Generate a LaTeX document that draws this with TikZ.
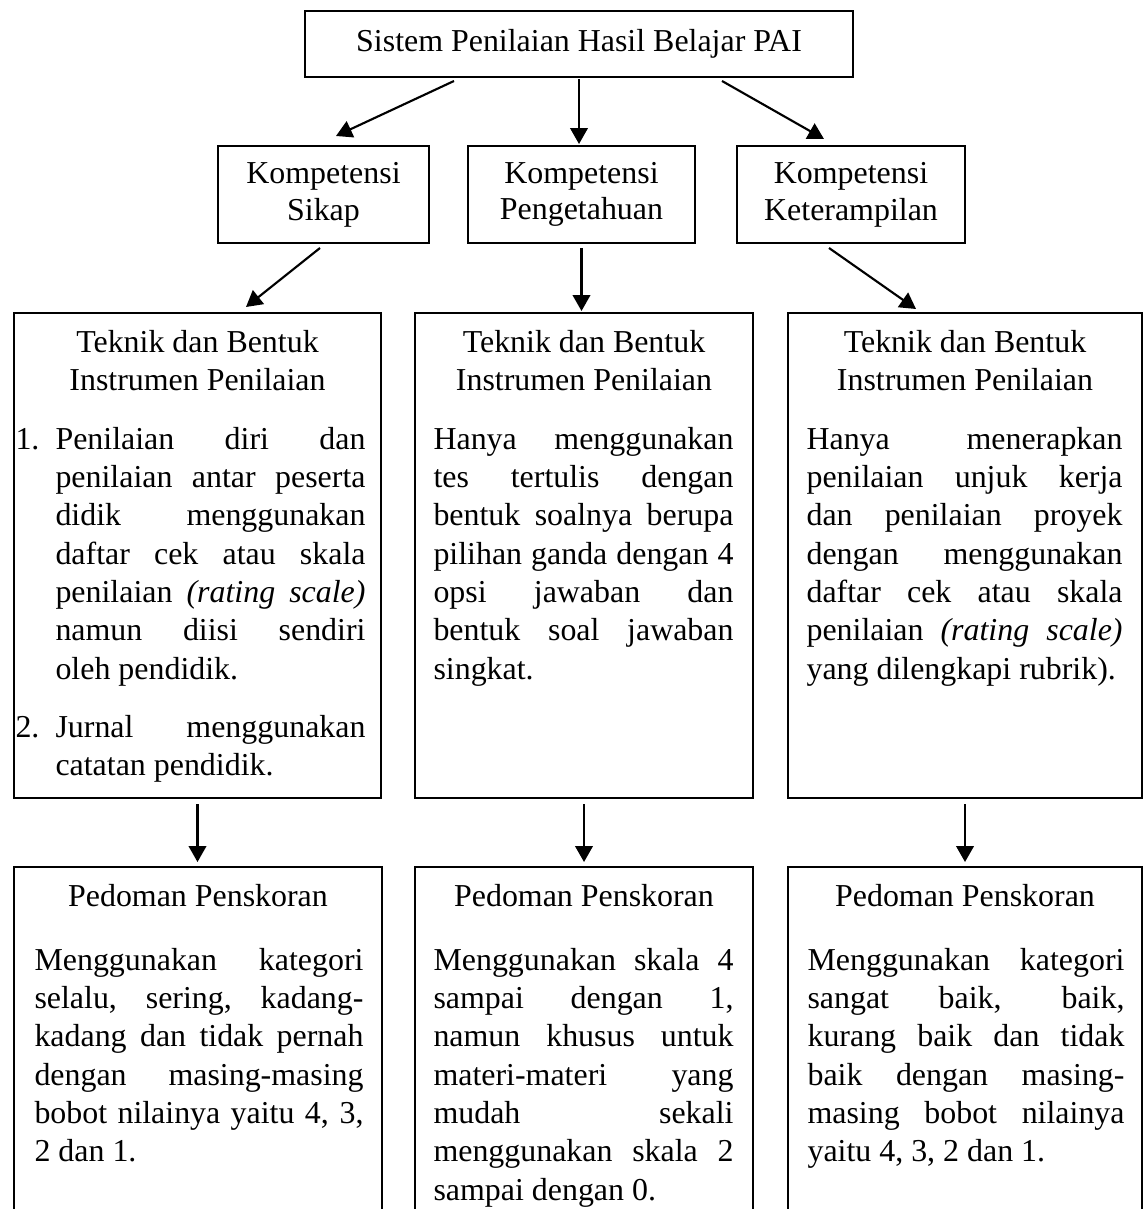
\documentclass[tikz,border=0pt]{standalone}
\usepackage{fontspec}
\setmainfont{Liberation Serif}
\usetikzlibrary{positioning,arrows.meta,calc}

\newlength{\pxu}
\setlength{\pxu}{0.376pt}
\newcommand{\numitem}[2]{\hangindent=40\pxu\hangafter=1\noindent
  \makebox[40\pxu][l]{\strut#1}#2\par}

\begin{document}
\begin{tikzpicture}[
  x=0.376pt, y=-0.376pt,
  box/.style={draw, line width=0.75pt, inner sep=0pt, align=center,
              font=\fontsize{12}{14.4}\selectfont},
  komp/.style={box, minimum height=97\pxu,
               font=\fontsize{12}{13.8}\selectfont},
  col/.style={box, anchor=north west},
  head/.style={anchor=north, inner sep=0pt, align=center,
               font=\fontsize{12}{14.4}\selectfont},
  body/.style={anchor=north west, inner sep=0pt, align=justify,
               font=\fontsize{12}{14.4}\selectfont,
               execute at begin node={\tolerance=10000\hyphenpenalty=10000\hbadness=10000}},
  arr/.style={-{Triangle[length=6pt, width=6.6pt]}, line width=0.8pt},
]
  \path[use as bounding box] (0,0) rectangle (1146,1209);
  \clip (0,0) rectangle (1146,1209);

  \node[box, minimum width=548\pxu, minimum height=66\pxu] (sistem) at (579,44)
    {Sistem Penilaian Hasil Belajar PAI};

  \node[komp, minimum width=211\pxu] (sikap) at (323.5,194.5) {Kompetensi\\Sikap};
  \node[komp, minimum width=227\pxu] (penget) at (581.5,194.5) {Kompetensi\\Pengetahuan};
  \node[komp, minimum width=228\pxu] (ketr) at (851,194.5) {Kompetensi\\Keterampilan};

  \node[col, minimum width=367\pxu, minimum height=485\pxu] (tek1) at (13,312) {};
  \node[col, minimum width=338\pxu, minimum height=485\pxu] (tek2) at (414,312) {};
  \node[col, minimum width=354\pxu, minimum height=485\pxu] (tek3) at (787,312) {};

  \node[head] (tek1h) at ($(tek1.north)+(0,13)$) {\strut Teknik dan Bentuk\\Instrumen Penilaian};
  \node[head] (tek2h) at ($(tek2.north)+(0,13)$) {\strut Teknik dan Bentuk\\Instrumen Penilaian};
  \node[head] (tek3h) at ($(tek3.north)+(0,13)$) {\strut Teknik dan Bentuk\\Instrumen Penilaian};

  \node[body, text width=350\pxu] (tek1b) at (15,422) {%
    \numitem{1.}{Penilaian diri dan\linebreak penilaian antar peserta\linebreak
      didik menggunakan\linebreak daftar cek atau skala\linebreak
      penilaian \textit{(rating scale)}\linebreak namun diisi sendiri\linebreak
      oleh pendidik.}
    \vspace{7.5pt}
    \numitem{2.}{Jurnal menggunakan\linebreak catatan pendidik.}};
  \node[body, text width=300\pxu] (tek2b) at (433,422) {%
    \strut Hanya menggunakan\linebreak tes tertulis dengan\linebreak
    bentuk soalnya berupa\linebreak pilihan ganda dengan 4\linebreak
    opsi jawaban dan\linebreak bentuk soal jawaban\linebreak singkat.};
  \node[body, text width=316\pxu] (tek3b) at (806,422) {%
    \strut Hanya menerapkan\linebreak penilaian unjuk kerja\linebreak
    dan penilaian proyek\linebreak dengan menggunakan\linebreak
    daftar cek atau skala\linebreak penilaian \textit{(rating scale)}\linebreak
    yang dilengkapi rubrik).};

  \node[col, minimum width=368\pxu, minimum height=400\pxu] (pedo1) at (13,866) {};
  \node[col, minimum width=338\pxu, minimum height=400\pxu] (pedo2) at (414,866) {};
  \node[col, minimum width=354\pxu, minimum height=400\pxu] (pedo3) at (787,866) {};

  \node[head] (pedo1h) at ($(pedo1.north)+(0,13)$) {\strut Pedoman Penskoran};
  \node[head] (pedo2h) at ($(pedo2.north)+(0,13)$) {\strut Pedoman Penskoran};
  \node[head] (pedo3h) at ($(pedo3.north)+(0,13)$) {\strut Pedoman Penskoran};

  \node[body, text width=329\pxu] (pedo1b) at (34,943) {%
    \strut Menggunakan kategori\linebreak selalu, sering, kadang-\linebreak
    kadang dan tidak pernah\linebreak dengan masing-masing\linebreak
    bobot nilainya yaitu 4, 3,\linebreak 2 dan 1.};
  \node[body, text width=300\pxu] (pedo2b) at (433,943) {%
    \strut Menggunakan skala 4\linebreak sampai dengan 1,\linebreak
    namun khusus untuk\linebreak materi-materi yang\linebreak
    mudah sekali\linebreak menggunakan skala 2\linebreak sampai dengan 0.};
  \node[body, text width=317\pxu] (pedo3b) at (807,943) {%
    \strut Menggunakan kategori\linebreak sangat baik, baik,\linebreak
    kurang baik dan tidak\linebreak baik dengan masing-\linebreak
    masing bobot nilainya\linebreak yaitu 4, 3, 2 dan 1.};

  \draw[arr] ($(sistem.south)+(-125,3)$) -- ($(sikap.north)+(12.5,-9)$);
  \draw[arr] ($(sistem.south)+(0,1)$) -- ($(sistem.south |- penget.north)+(0,-1)$);
  \draw[arr] ($(sistem.south)+(143,3)$) -- ($(ketr.north)+(-27,-6)$);

  \draw[arr] ($(sikap.south)+(-3.5,4)$) -- ($(tek1.north)+(48.5,-5)$);
  \draw[arr] ($(penget.south)+(0,4)$) -- ($(penget.south |- tek2.north)+(0,-1)$);
  \draw[arr] ($(ketr.south)+(-22,4)$) -- ($(tek3.north)+(-49,-3)$);

  \draw[arr] ($(tek1.south)+(0,5)$) -- ($(tek1.south |- pedo1.north)+(0,-4)$);
  \draw[arr] ($(tek2.south)+(0,5)$) -- ($(tek2.south |- pedo2.north)+(0,-4)$);
  \draw[arr] ($(tek3.south)+(0,5)$) -- ($(tek3.south |- pedo3.north)+(0,-4)$);
\end{tikzpicture}
\end{document}
